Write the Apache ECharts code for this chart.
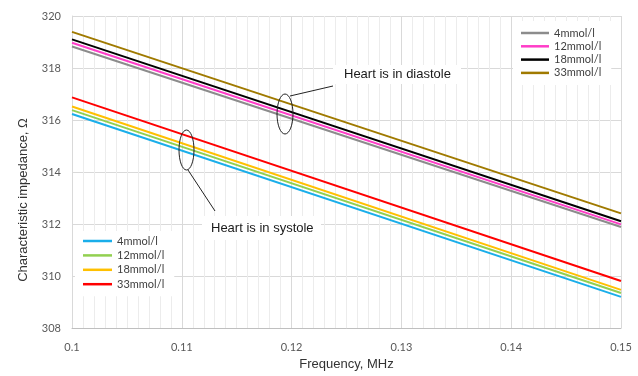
<!DOCTYPE html>
<html>
<head>
<meta charset="utf-8">
<script src="https://cdn.jsdelivr.net/npm/echarts@6/dist/echarts.min.js"></script>
<style>html,body{margin:0;padding:0;background:#fff}#c{width:638px;height:376px}</style>
</head>
<body>
<div id="c"></div>
<script>
// Frequency (MHz) at which values are read
var freqs = [0.10, 0.15];
// Heart in diastole
var dia4  = [318.83, 311.89];
var dia12 = [318.97, 311.99];
var dia18 = [319.10, 312.11];
var dia33 = [319.39, 312.41];
// Heart in systole
var sys4  = [316.23, 309.20];
var sys12 = [316.38, 309.35];
var sys18 = [316.52, 309.47];
var sys33 = [316.87, 309.81];

var legendLabels = {d4:'4mmol/l', d12:'12mmol/l', d18:'18mmol/l', d33:'33mmol/l',
                    s4:'4mmol/l', s12:'12mmol/l', s18:'18mmol/l', s33:'33mmol/l'};

function pts(arr){ return freqs.map(function(f,i){ return [f, arr[i]]; }); }
function mk(name, arr, color){
  return {name:name, type:'line', data:pts(arr), color:color, symbol:'none',
          lineStyle:{width:2, color:color}, silent:true, animation:false};
}

var chart = echarts.init(document.getElementById('c'));
var labelFont = 'Lato, "Open Sans", sans-serif';
chart.setOption({
  animation:false,
  grid:{left:72, right:17, top:16, bottom:42},
  xAxis:{
    type:'value', min:0.1, max:0.15, interval:0.01,
    name:'Frequency, MHz', nameLocation:'middle', nameGap:24,
    nameTextStyle:{fontFamily:'"Liberation Sans", Arial, sans-serif', fontSize:13, color:'#333'},
    axisLine:{show:true, lineStyle:{color:'#bfbfbf', width:1}},
    axisTick:{show:false},
    axisLabel:{fontFamily:labelFont, fontSize:11, color:'#595959', margin:14,
      formatter:function(v){ return String(Math.round(v*100)/100); }},
    splitLine:{show:true, lineStyle:{color:'#d9d9d9', width:1}},
    minorTick:{show:false, splitNumber:10},
    minorSplitLine:{show:true, lineStyle:{color:'#ececec', width:1}}
  },
  yAxis:{
    type:'value', min:308, max:320, interval:2,
    axisLine:{show:true, lineStyle:{color:'#d9d9d9', width:1}},
    axisTick:{show:false},
    axisLabel:{fontFamily:labelFont, fontSize:11, color:'#595959', margin:11},
    splitLine:{show:true, lineStyle:{color:'#d9d9d9', width:1}}
  },
  legend:[
    {data:['d4','d12','d18','d33'], orient:'vertical', left:513, top:21,
     padding:[6,10,6,8], itemGap:1.3, itemWidth:28, itemHeight:2.5, icon:'rect',
     backgroundColor:'#fff', selectedMode:false,
     formatter:function(n){return legendLabels[n];},
     textStyle:{fontFamily:labelFont, fontSize:11, color:'#404040', lineHeight:12}},
    {data:['s4','s12','s18','s33'], orient:'vertical', left:75, top:231,
     padding:[4,10,6,8], itemGap:2.4, itemWidth:29, itemHeight:2.5, icon:'rect',
     backgroundColor:'#fff', selectedMode:false,
     formatter:function(n){return legendLabels[n];},
     textStyle:{fontFamily:labelFont, fontSize:11, color:'#404040', lineHeight:12}}
  ],
  series:[
    mk('d4', dia4, '#8c8c8c'),
    mk('d12', dia12, '#ff3dc8'),
    mk('d18', dia18, '#000000'),
    mk('d33', dia33, '#a07a00'),
    mk('s4', sys4, '#1aaeea'),
    mk('s12', sys12, '#92d050'),
    mk('s18', sys18, '#ffc000'),
    mk('s33', sys33, '#ff0000')
  ],
  graphic:[
    {type:'text', x:23, y:200, rotation:Math.PI/2, z:10,
     style:{text:'Characteristic impedance, \u03A9', fontFamily:'"Liberation Sans", Arial, sans-serif',
            fontSize:13, fill:'#333', align:'center', verticalAlign:'middle'}},
    // diastole annotation
    {type:'rect', shape:{x:333, y:65, width:128, height:19}, style:{fill:'#fff'}, z:10},
    {type:'text', x:344, y:74.5, z:11,
     style:{text:'Heart is in diastole', fontFamily:'"Liberation Sans", Arial, sans-serif',
            fontSize:13, fill:'#1a1a1a', verticalAlign:'middle'}},
    {type:'ellipse', shape:{cx:285, cy:114, rx:8, ry:20}, style:{fill:null, stroke:'#222', lineWidth:1}, z:12},
    {type:'line', shape:{x1:290, y1:96, x2:333, y2:86}, style:{stroke:'#222', lineWidth:1}, z:12},
    // systole annotation
    {type:'rect', shape:{x:202, y:216, width:119, height:24}, style:{fill:'#fff'}, z:10},
    {type:'text', x:211, y:228.5, z:11,
     style:{text:'Heart is in systole', fontFamily:'"Liberation Sans", Arial, sans-serif',
            fontSize:13, fill:'#1a1a1a', verticalAlign:'middle'}},
    {type:'ellipse', shape:{cx:186.5, cy:150, rx:7.5, ry:20}, style:{fill:null, stroke:'#222', lineWidth:1}, z:12},
    {type:'line', shape:{x1:188, y1:170, x2:215, y2:211}, style:{stroke:'#222', lineWidth:1}, z:12}
  ]
});
</script>
</body>
</html>
